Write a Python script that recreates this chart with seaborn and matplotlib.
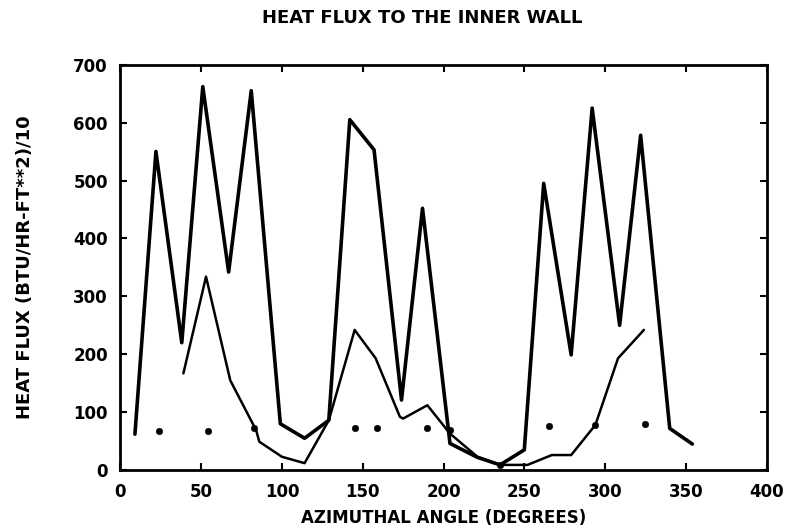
import numpy as np
import pandas as pd
import matplotlib
matplotlib.use("Agg")
import matplotlib.pyplot as plt
import seaborn as sns

# upper (thick) curve
angle_hi = [9, 22, 38, 51, 67, 81, 99, 114, 129, 142, 157, 174, 187, 204, 221, 235, 250, 262, 279, 292, 309, 322, 340, 354]
flux_hi = [62, 550, 220, 662, 342, 655, 80, 55, 86, 605, 553, 121, 452, 46, 22, 9, 35, 495, 199, 625, 250, 578, 72, 45]

# lower (thin) curve
angle_lo = [39, 53, 68, 84, 86, 100, 114, 129, 145, 158, 173, 175, 190, 204, 221, 235, 252, 267, 279, 294, 308, 324]
flux_lo = [167, 334, 155, 69, 49, 23, 12, 86, 242, 193, 92, 89, 112, 63, 23, 9, 9, 26, 26, 78, 193, 242]

# isolated points
angle_pts = [24, 54, 83, 145, 159, 190, 204, 235, 265, 294, 325]
flux_pts = [67, 67, 72, 72, 73, 73, 69, 8, 76, 78, 80]

hi = pd.DataFrame({"angle": angle_hi, "flux": flux_hi})
lo = pd.DataFrame({"angle": angle_lo, "flux": flux_lo})
pts = pd.DataFrame({"angle": angle_pts, "flux": flux_pts})

sns.set_style("ticks")
plt.rcParams['font.family'] = ['DejaVu Sans']
plt.rcParams['text.color'] = 'black'
plt.rcParams['axes.labelcolor'] = 'black'
plt.rcParams['xtick.color'] = 'black'
plt.rcParams['ytick.color'] = 'black'

fig = plt.figure(figsize=(7.92, 5.30), dpi=100)
ax = fig.add_axes([0.152, 0.113, 0.816, 0.765])

sns.lineplot(data=hi, x="angle", y="flux", sort=False, estimator=None,
             color="black", linewidth=2.6, ax=ax)
sns.lineplot(data=lo, x="angle", y="flux", sort=False, estimator=None,
             color="black", linewidth=1.8, ax=ax)
sns.scatterplot(data=pts, x="angle", y="flux", color="black", s=22,
                edgecolor="black", ax=ax, zorder=5)

ax.set_xlim(0, 400)
ax.set_ylim(0, 700)
ax.set_xticks(range(0, 401, 50))
ax.set_yticks(range(0, 701, 100))
ax.tick_params(direction="in", length=5, width=1.5, top=True, right=True,
               labelsize=12, pad=9)
for lab in ax.get_xticklabels() + ax.get_yticklabels():
    lab.set_fontweight("bold")
for s in ax.spines.values():
    s.set_linewidth(2)
    s.set_color("black")

ax.set_xlabel("AZIMUTHAL ANGLE (DEGREES)", fontsize=12, fontweight="bold", labelpad=6)
ax.set_ylabel("HEAT FLUX (BTU/HR-FT**2)/10", fontsize=13, fontweight="bold", labelpad=28)
fig.text(0.533, 0.966, "HEAT FLUX TO THE INNER WALL", ha="center", va="center",
         fontsize=13, fontweight="bold")

fig.savefig("out.png", dpi=100)
